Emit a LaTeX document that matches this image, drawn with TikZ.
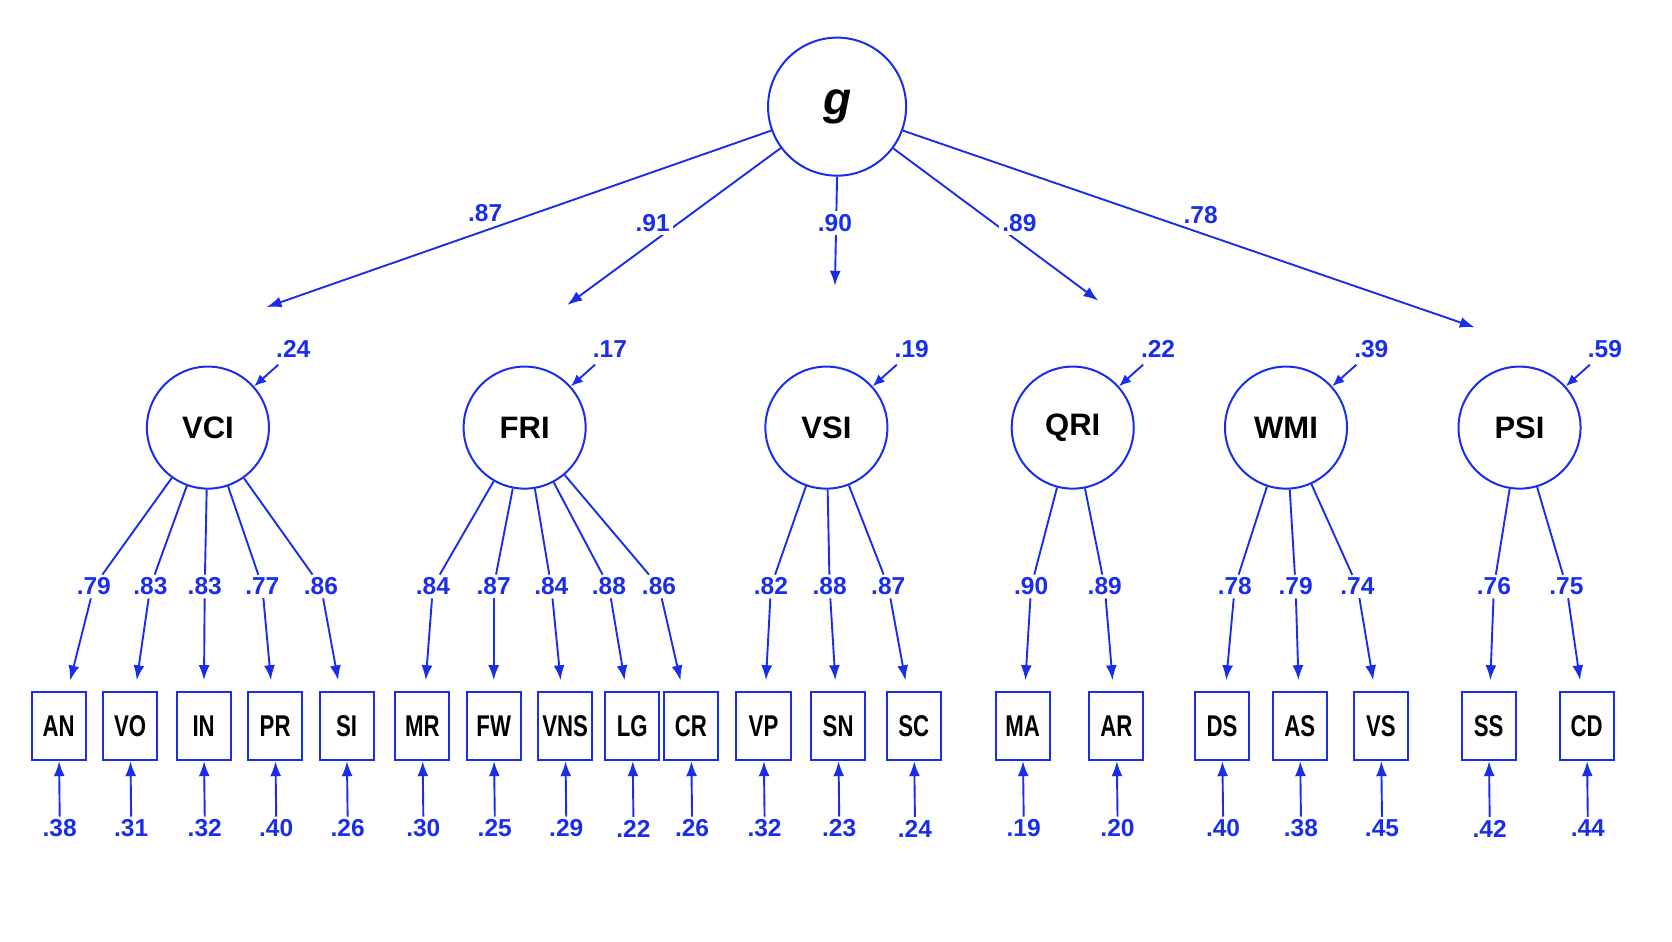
\documentclass[tikz,border=0pt]{standalone}
\usepackage{fontspec}
\setmainfont{Liberation Sans}
\usetikzlibrary{arrows.meta}
\definecolor{sb}{RGB}{25,45,235}
\begin{document}
\begin{tikzpicture}[x=1.066pt,y=-1.066pt,
  lat/.style={circle,draw=sb,line width=2pt,minimum size=122pt,inner sep=0pt,font=\fontsize{31}{33}\selectfont\bfseries},
  obs/.style={rectangle,draw=sb,line width=2pt,minimum width=54pt,minimum height=68pt,inner sep=0pt,font=\fontsize{30}{32}\selectfont\bfseries},
  num/.style={text=sb,font=\fontsize{24.5}{26}\selectfont\bfseries,inner sep=3pt},
  lab/.style={num,fill=white},
  arr/.style={draw=sb,line width=1.9pt,-{Latex[length=15pt,width=11pt]}},
  ln/.style={draw=sb,line width=1.9pt}]
\useasboundingbox (0,0) rectangle (1568,883);
\node[lat,minimum size=138pt,font=\fontsize{46}{48}\selectfont\bfseries\itshape] (g) at (785,100) {g};
\foreach \n/\x in {VCI/195,FRI/492,VSI/775,QRI/1006,WMI/1206,PSI/1425}
  \node[lat] (\n) at (\x,401) {\n};
% g paths
\coordinate (eVCI) at (250,288);
\coordinate (eFRI) at (532,286);
\coordinate (eVSI) at (783,268);
\coordinate (eQRI) at (1030,282);
\coordinate (ePSI) at (1383,307);
\draw[arr] (g.-160) -- (eVCI);
\draw[arr] (g) -- (eFRI);
\draw[arr] (g.south) -- (eVSI);
\draw[arr] (g) -- (eQRI);
\draw[arr] (g.-20) -- (ePSI);
\node[num] (l1) at (455,200) {.87};
\node[lab] (l2) at (612,209) {.91};
\node[lab] (l3) at (783,209) {.90};
\node[lab] (l4) at (956,209) {.89};
\node[num] (l5) at (1126,202) {.78};
% disturbances
\foreach \n/\v/\x in {VCI/.24/195,FRI/.17/492,VSI/.19/775,QRI/.22/1006,WMI/.39/1206,PSI/.59/1425}{
  \node[num] (d\n) at (\x+80,327) {\v};
  \coordinate (s\n) at (\x+66,342);
  \draw[arr,-{Latex[length=12pt,width=10pt]}] (s\n) -- (\n);
}
% observed
\foreach \n/\x/\f/\l/\lx/\e in {AN/55/VCI/.79/88/.38,VO/122/VCI/.83/141/.31,IN/191/VCI/.83/192/.32,PR/258/VCI/.77/246/.40,SI/325/VCI/.86/301/.26,
  MR/396/FRI/.84/406/.30,FW/463/FRI/.87/463/.25,VNS/530/FRI/.84/517/.29,LG/593/FRI/.88/571/.22,CR/648/FRI/.86/618/.26,
  VP/716/VSI/.82/723/.32,SN/786/VSI/.88/778/.23,SC/857/VSI/.87/833/.24,
  MA/959/QRI/.90/967/.19,AR/1047/QRI/.89/1036/.20,
  DS/1146/WMI/.78/1158/.40,AS/1219/WMI/.79/1215/.38,VS/1295/WMI/.74/1273/.45,
  SS/1396/PSI/.76/1401/.42,CD/1488/PSI/.75/1469/.44}{
  \node[obs] (\n) at (\x,681) {\scalebox{0.74}[1]{\n}};
  \node[num] (m\n) at (\lx,550) {\l};
  \draw[ln] (\f) -- (m\n);
  \draw[arr,shorten >=11pt] (m\n) -- (\n);
  \node[num] (e\n) at (\x+1,777) {\e};
  \draw[arr] (e\n.north) -- (\n);
}
\end{tikzpicture}
\end{document}
